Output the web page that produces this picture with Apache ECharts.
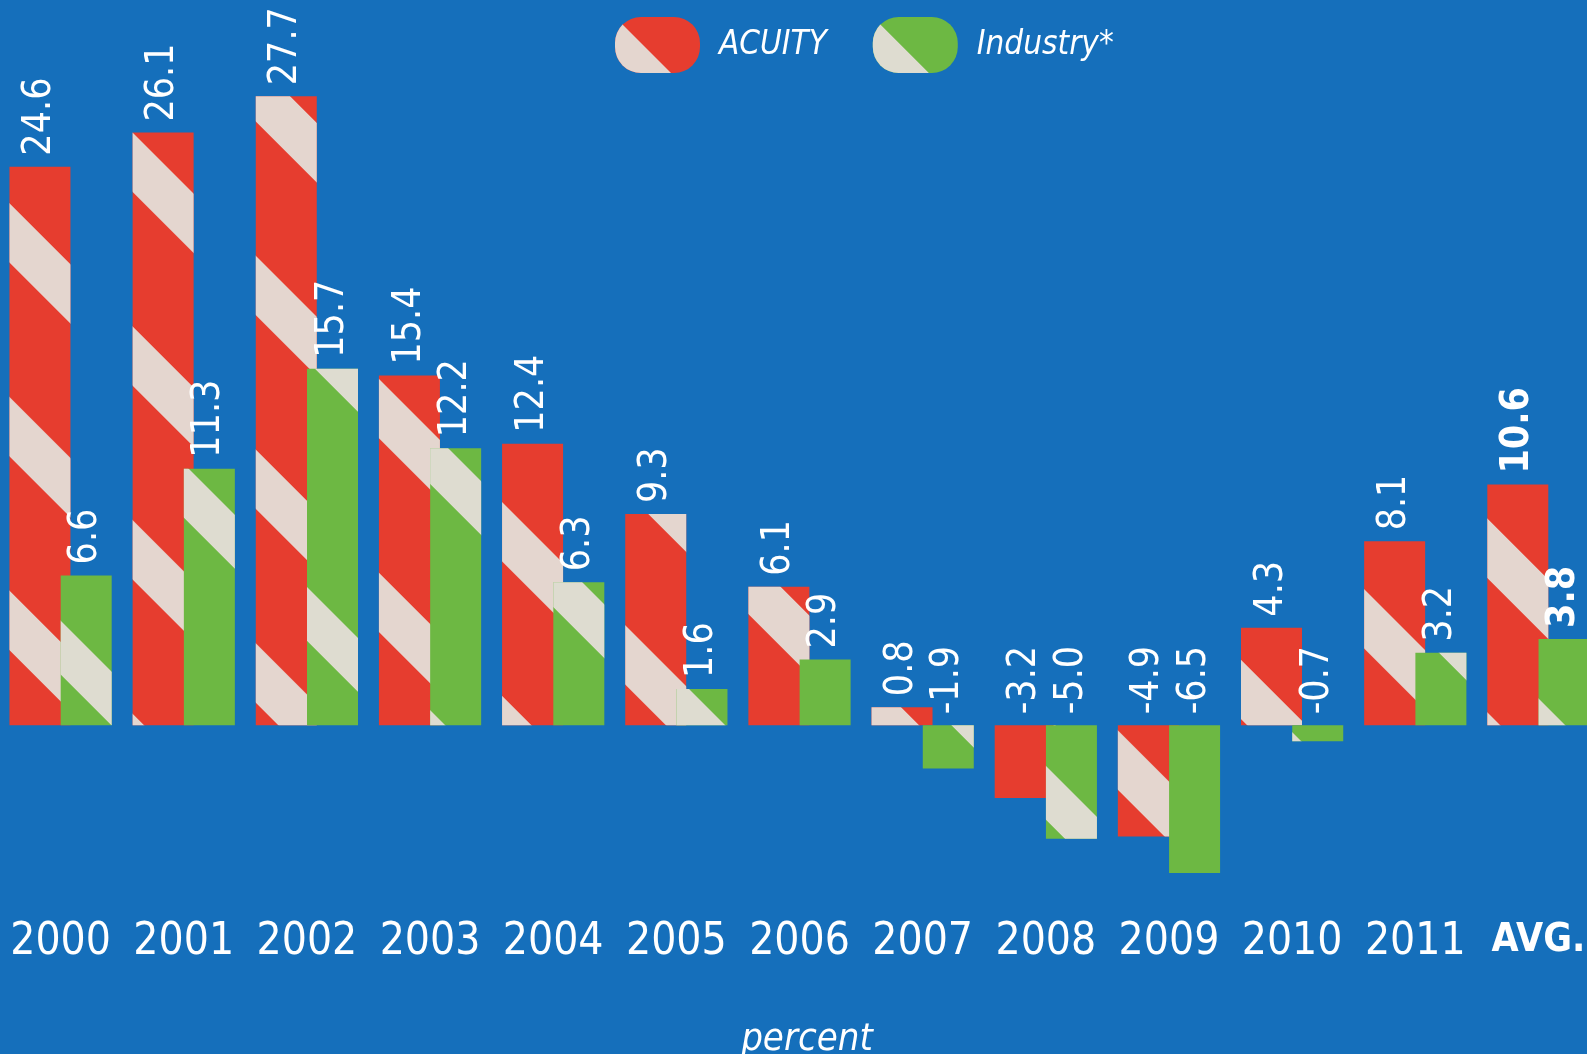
<!DOCTYPE html>
<html>
<head>
<meta charset="utf-8">
<title>ACUITY vs Industry</title>
<script src="https://cdn.jsdelivr.net/npm/echarts@6/dist/echarts.min.js"></script>
<style>
  html, body { margin: 0; padding: 0; background: #156fbb; }
  #chart { width: 1587px; height: 1054px; }
</style>
</head>
<body>
<div id="chart"></div>
<script>
// chart values
var years = ['2000', '2001', '2002', '2003', '2004', '2005', '2006', '2007', '2008', '2009', '2010', '2011', 'AVG.']
var acuity = [24.6, 26.1, 27.7, 15.4, 12.4, 9.3, 6.1, 0.8, -3.2, -4.9, 4.3, 8.1, 10.6]
var industry = [6.6, 11.3, 15.7, 12.2, 6.3, 1.6, 2.9, -1.9, -5.0, -6.5, -0.7, 3.2, 3.8]

var FONT = '"Liberation Sans Narrow", "DejaVu Sans Condensed", "Roboto", sans-serif'

// last item (average) gets bold label
function toItems(arr) {
  return arr.map(function (v, i) {
    if (i === arr.length - 1) {
      return { value: v, label: { fontWeight: 'bold' } }
    }
    return v
  })
}

var valueLabel = {
  show: true,
  position: 'top',
  rotate: 90,
  align: 'left',
  verticalAlign: 'middle',
  distance: 11,
  color: '#ffffff',
  fontSize: 39,
  fontFamily: FONT,
  formatter: function (p) {
    return p.value.toFixed(1)
  }
}

var chart = echarts.init(document.getElementById('chart'))
chart.setOption({
  backgroundColor: '#156fbb',
  animation: false,
  aria: { enabled: true, decal: { show: true } },
  legend: {
    left: 610,
    top: 12,
    itemWidth: 85,
    itemHeight: 56,
    itemGap: 46,
    icon: 'path://M26,0 H59 A26,26 0 0 1 85,26 V30 A26,26 0 0 1 59,56 H26 A26,26 0 0 1 0,30 V26 A26,26 0 0 1 26,0 Z',
    textStyle: {
      color: '#ffffff',
      fontSize: 33,
      fontStyle: 'italic',
      fontFamily: FONT,
      padding: [0, 0, 0, 14]
    },
    data: ['ACUITY', 'Industry*']
  },
  grid: {
    left: -1,
    top: 44,
    width: 1601,
    height: 863,
    outerBoundsMode: 'none'
  },
  xAxis: {
    type: 'category',
    data: years,
    axisLine: { show: false, onZero: false },
    axisTick: { show: false },
    axisLabel: {
      interval: 0,
      margin: 14,
      color: '#ffffff',
      fontSize: 44,
      fontFamily: FONT,
      formatter: function (v) {
        return v === 'AVG.' ? '{b|' + v + '}' : v
      },
      rich: {
        b: { fontWeight: 'bold', fontSize: 39, color: '#ffffff', fontFamily: FONT }
      }
    }
  },
  yAxis: {
    type: 'value',
    min: -8,
    max: 30,
    show: false,
    splitLine: { show: false }
  },
  series: [
    {
      name: 'ACUITY',
      type: 'bar',
      barWidth: 61,
      barGap: '-16%',
      data: toItems(acuity),
      itemStyle: {
        color: '#e63d2f',
        decal: {
          symbol: 'rect',
          symbolSize: 1,
          color: 'rgba(228,222,216,0.95)',
          dashArrayX: [1, 0],
          dashArrayY: [42, 95],
          rotation: Math.PI / 4
        }
      },
      label: valueLabel
    },
    {
      name: 'Industry*',
      type: 'bar',
      barWidth: 51,
      data: toItems(industry),
      itemStyle: {
        color: '#6db843',
        decal: {
          symbol: 'rect',
          symbolSize: 1,
          color: 'rgba(228,222,216,0.95)',
          dashArrayX: [1, 0],
          dashArrayY: [38, 160],
          rotation: Math.PI / 4
        }
      },
      label: valueLabel
    }
  ],
  graphic: [
    {
      type: 'text',
      style: {
        text: 'percent',
        x: 807,
        y: 1040,
        align: 'center',
        verticalAlign: 'middle',
        fill: '#ffffff',
        font: 'italic 38px ' + FONT
      }
    }
  ]
})
</script>
</body>
</html>
